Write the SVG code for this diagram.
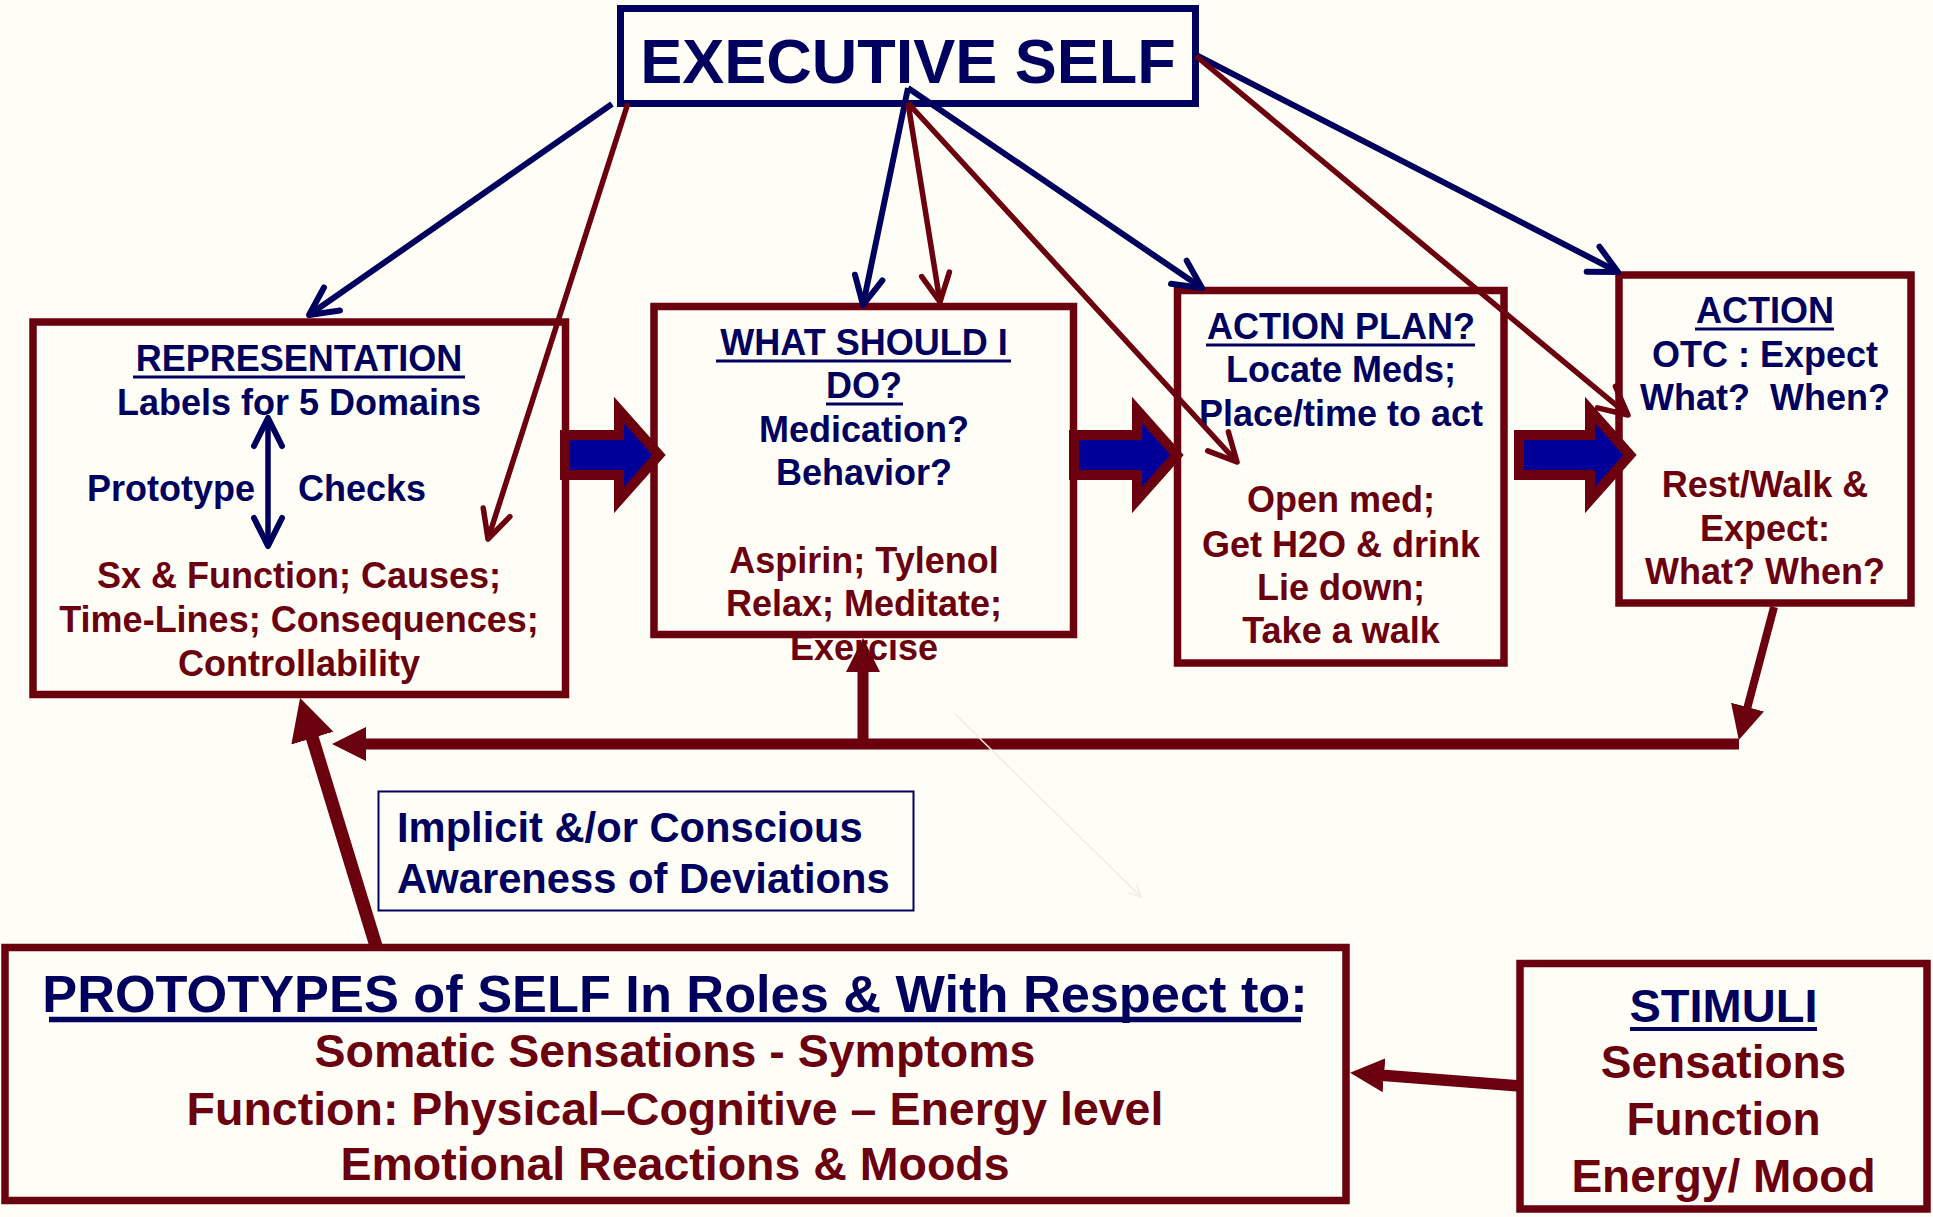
<svg xmlns="http://www.w3.org/2000/svg" width="1933" height="1217" viewBox="0 0 1933 1217">
  <style>
    .t { font-family: "Liberation Sans", Arial, sans-serif; font-weight: bold; text-anchor: middle; }
    .tl { font-family: "Liberation Sans", Arial, sans-serif; font-weight: bold; text-anchor: start; }
    .navy { fill: #00005E; }
    .red { fill: #6B000F; }
    .box { fill: none; stroke: #6B000F; stroke-width: 7.5; }
    .ul { stroke: #00005E; stroke-width: 3; }
    .lnNavy { stroke: #00005E; stroke-width: 6; fill: none; marker-end: url(#vNavy); }
    .lnRed { stroke: #6B000F; stroke-width: 5.5; fill: none; marker-end: url(#vRed); }
    .fb { stroke: #6B000F; fill: none; }
    .block { fill: #000099; stroke: #6B000F; stroke-width: 10; stroke-linejoin: miter; }
    .f36 { font-size: 36px; }
    .f46 { font-size: 46.5px; }
  </style>
  <defs>
    <marker id="vNavy" viewBox="-40 -20 44 40" markerWidth="44" markerHeight="40" refX="0" refY="0" orient="auto-start-reverse" markerUnits="userSpaceOnUse">
      <path d="M-28,-14 L0,0 L-28,14" fill="none" stroke="#00005E" stroke-width="6" stroke-linecap="round" stroke-linejoin="round"/>
    </marker>
    <marker id="vRed" viewBox="-40 -20 44 40" markerWidth="44" markerHeight="40" refX="0" refY="0" orient="auto" markerUnits="userSpaceOnUse">
      <path d="M-28,-14 L0,0 L-28,14" fill="none" stroke="#6B000F" stroke-width="5.5" stroke-linecap="round" stroke-linejoin="round"/>
    </marker>
    <marker id="vFaint" viewBox="-20 -10 24 20" markerWidth="24" markerHeight="20" refX="0" refY="0" orient="auto" markerUnits="userSpaceOnUse">
      <path d="M-12,-6 L0,0 L-12,6" fill="none" stroke="#EEEEE3" stroke-width="1.5"/>
    </marker>
    <marker id="triRed" viewBox="0 -18 36 36" markerWidth="36" markerHeight="36" refX="2" refY="0" orient="auto" markerUnits="userSpaceOnUse">
      <path d="M0,-17 L34,0 L0,17 Z" fill="#6B000F"/>
    </marker>
    <marker id="triRedBig" viewBox="0 -23 44 46" markerWidth="44" markerHeight="46" refX="2" refY="0" orient="auto" markerUnits="userSpaceOnUse">
      <path d="M0,-22 L42,0 L0,22 Z" fill="#6B000F"/>
    </marker>
  </defs>

  <rect x="0" y="0" width="1933" height="1217" fill="#FFFEF6"/>

  <!-- Executive self -->
  <g id="executive-self">
    <rect x="620.5" y="8.5" width="575" height="95" fill="#FFFEF6" stroke="#00005E" stroke-width="7"/>
    <text class="t navy" x="908" y="83" font-size="63">EXECUTIVE SELF</text>
  </g>

  <!-- Representation -->
  <g id="representation">
    <rect class="box" x="33" y="322" width="532.5" height="372.5"/>
    <text class="t navy f36" x="299" y="371">REPRESENTATION</text>
    <line class="ul" x1="133" y1="377" x2="465" y2="377"/>
    <text class="t navy f36" x="299" y="415">Labels for 5 Domains</text>
    <text class="tl navy f36" x="87" y="501">Prototype</text>
    <text class="tl navy f36" x="298" y="501">Checks</text>
    <line x1="268" y1="418" x2="268" y2="546" stroke="#00005E" stroke-width="5.5" marker-start="url(#vNavy)" marker-end="url(#vNavy)"/>
    <text class="t red f36" x="299" y="588">Sx &amp; Function; Causes;</text>
    <text class="t red f36" x="299" y="632">Time-Lines; Consequences;</text>
    <text class="t red f36" x="299" y="676">Controllability</text>
  </g>

  <!-- What should I do? -->
  <g id="what-should-i-do">
    <rect class="box" x="654" y="306.5" width="419.5" height="328" stroke-width="8"/>
    <text class="t navy f36" x="864" y="355">WHAT SHOULD I</text>
    <line class="ul" x1="716" y1="361" x2="1011" y2="361"/>
    <text class="t navy f36" x="864" y="398">DO?</text>
    <line class="ul" x1="826" y1="404" x2="903" y2="404"/>
    <text class="t navy f36" x="864" y="442">Medication?</text>
    <text class="t navy f36" x="864" y="485">Behavior?</text>
    <text class="t red f36" x="864" y="573">Aspirin; Tylenol</text>
    <text class="t red f36" x="864" y="616">Relax; Meditate;</text>
    <text class="t red f36" x="864" y="660">Exercise</text>
  </g>

  <!-- Action plan -->
  <g id="action-plan">
    <rect class="box" x="1177.5" y="290.5" width="326.5" height="372.5"/>
    <text class="t navy f36" x="1341" y="339">ACTION PLAN?</text>
    <line class="ul" x1="1206" y1="345" x2="1475" y2="345"/>
    <text class="t navy f36" x="1341" y="382">Locate Meds;</text>
    <text class="t navy f36" x="1341" y="426">Place/time to act</text>
    <text class="t red f36" x="1341" y="512">Open med;</text>
    <text class="t red f36" x="1341" y="557">Get H2O &amp; drink</text>
    <text class="t red f36" x="1341" y="600">Lie down;</text>
    <text class="t red f36" x="1341" y="643">Take a walk</text>
  </g>

  <!-- Action -->
  <g id="action">
    <rect class="box" x="1619" y="275" width="292" height="328"/>
    <text class="t navy f36" x="1765" y="323">ACTION</text>
    <line class="ul" x1="1695" y1="329" x2="1834" y2="329"/>
    <text class="t navy f36" x="1765" y="367">OTC : Expect</text>
    <text class="t navy f36" x="1765" y="410" xml:space="preserve">What?  When?</text>
    <text class="t red f36" x="1765" y="497">Rest/Walk &amp;</text>
    <text class="t red f36" x="1765" y="541">Expect:</text>
    <text class="t red f36" x="1765" y="584">What? When?</text>
  </g>

  <!-- Implicit awareness label -->
  <g id="implicit-awareness">
    <rect x="378.5" y="791.5" width="535" height="119" fill="none" stroke="#00005E" stroke-width="2"/>
    <text class="tl navy" x="397" y="842" font-size="41.7">Implicit &amp;/or Conscious</text>
    <text class="tl navy" x="397" y="893" font-size="41.7">Awareness of Deviations</text>
  </g>

  <!-- Prototypes of self -->
  <g id="prototypes">
    <rect class="box" x="5" y="947.5" width="1341" height="253" stroke-width="8"/>
    <text class="t navy" x="675" y="1012" font-size="52.3">PROTOTYPES of SELF In Roles &amp; With Respect to:</text>
    <line x1="49" y1="1019.5" x2="1301" y2="1019.5" stroke="#00005E" stroke-width="5.5"/>
    <text class="t red f46" x="675" y="1067">Somatic Sensations - Symptoms</text>
    <text class="t red f46" x="675" y="1125">Function: Physical–Cognitive – Energy level</text>
    <text class="t red f46" x="675" y="1180">Emotional Reactions &amp; Moods</text>
  </g>

  <!-- Stimuli -->
  <g id="stimuli">
    <rect class="box" x="1520" y="963.5" width="407" height="245.5"/>
    <text class="t navy" x="1723.5" y="1022" font-size="47">STIMULI</text>
    <line x1="1630" y1="1029" x2="1817" y2="1029" stroke="#00005E" stroke-width="4"/>
    <text class="t red" x="1723.5" y="1078" font-size="46">Sensations</text>
    <text class="t red" x="1723.5" y="1135" font-size="46">Function</text>
    <text class="t red" x="1723.5" y="1192" font-size="46">Energy/ Mood</text>
  </g>

  <!-- Connectors -->
  <g id="connectors">
    <!-- block arrows between the stages -->
    <polygon class="block" points="565,435 619,435 619,410 659,455 619,500 619,475 565,475"/>
    <polygon class="block" points="1074,435 1137,435 1137,410 1177,455 1137,500 1137,475 1074,475"/>
    <polygon class="block" points="1519,435 1590,435 1590,410 1630,455 1590,500 1590,475 1519,475"/>

    <!-- executive self outputs -->
    <line class="lnNavy" x1="612" y1="104" x2="309" y2="315"/>
    <line class="lnRed" x1="628" y1="103" x2="488" y2="539"/>
    <line class="lnNavy" x1="908" y1="88" x2="863" y2="305"/>
    <line class="lnRed" x1="908" y1="103" x2="940" y2="302"/>
    <line class="lnNavy" x1="908" y1="88" x2="1202" y2="288"/>
    <line class="lnRed" x1="908" y1="103" x2="1237" y2="462"/>
    <line class="lnNavy" x1="1196" y1="55" x2="1618" y2="272"/>
    <line class="lnRed" x1="1196" y1="56" x2="1628" y2="415"/>

    <!-- feedback loop -->
    <line class="fb" x1="1774" y1="607" x2="1747" y2="709" stroke-width="8" marker-end="url(#triRed)"/>
    <line class="fb" x1="1739" y1="744" x2="364" y2="744" stroke-width="11" marker-end="url(#triRed)"/>
    <line class="fb" x1="863" y1="749" x2="863" y2="670" stroke-width="11" marker-end="url(#triRed)"/>

    <!-- prototypes up to representation -->
    <line class="fb" x1="376" y1="946" x2="311.8" y2="736.2" stroke-width="13" marker-end="url(#triRedBig)"/>

    <!-- stimuli into prototypes -->
    <line class="fb" x1="1520" y1="1086" x2="1382" y2="1075.2" stroke-width="11.5" marker-end="url(#triRed)"/>

    <!-- faint trace -->
    <line x1="954" y1="713" x2="1141" y2="897" stroke="#EEEEE3" stroke-width="1.5" marker-end="url(#vFaint)"/>
  </g>
</svg>
